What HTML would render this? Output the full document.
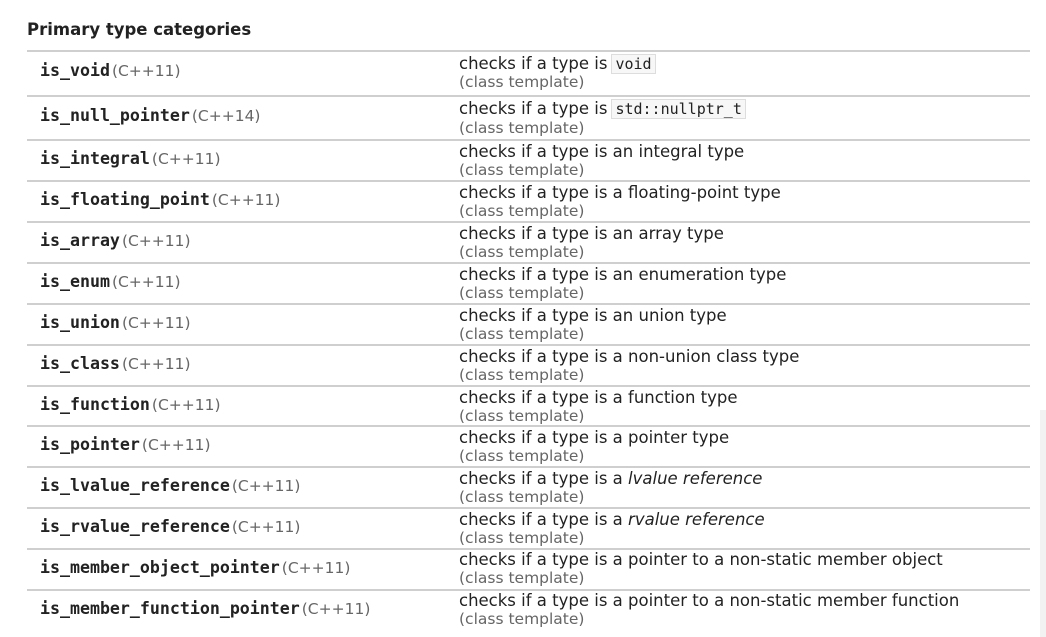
<!DOCTYPE html>
<html><head><meta charset="utf-8"><style>
body{margin:0;width:1046px;height:637px;background:#fff;overflow:hidden;position:relative;font-family:"DejaVu Sans","Liberation Sans",sans-serif;}
.title{position:absolute;left:27px;top:20px;font-weight:bold;font-size:16.5px;color:#222;}
.line{position:absolute;left:27px;width:1003px;height:2px;background:#cfcfcf;}
.code{position:absolute;left:40px;white-space:nowrap;color:#222;}
.code b{font-family:"DejaVu Sans Mono","Liberation Mono",monospace;font-size:16.6px;}
.code span{font-size:15.5px;color:#666;margin-left:2px;}
.d{position:absolute;left:459px;font-size:16.5px;color:#222;white-space:nowrap;}
.c{position:absolute;left:459px;font-size:15.5px;color:#666;white-space:nowrap;}
.box{font-family:"DejaVu Sans Mono","Liberation Mono",monospace;font-size:15px;background:#f7f7f7;border:1px solid #ddd;padding:0 3px;margin-left:4px;}
.sb{position:absolute;left:1040px;top:410px;width:6px;height:227px;background:#f2f2f2;}
</style></head><body>
<div class="title">Primary type categories</div>
<div class="sb"></div>

<div class="line" style="top:50px"></div>
<div class="code" style="top:61px"><b>is_void</b><span>(C++11)</span></div>
<div class="d" style="top:54px">checks if a type is<span class="box">void</span></div>
<div class="c" style="top:73px">(class template)</div>

<div class="line" style="top:95px"></div>
<div class="code" style="top:106px"><b>is_null_pointer</b><span>(C++14)</span></div>
<div class="d" style="top:99px">checks if a type is<span class="box">std::nullptr_t</span></div>
<div class="c" style="top:119px">(class template)</div>

<div class="line" style="top:139px"></div>
<div class="code" style="top:149px"><b>is_integral</b><span>(C++11)</span></div>
<div class="d" style="top:142px">checks if a type is an integral type</div>
<div class="c" style="top:161px">(class template)</div>

<div class="line" style="top:180px"></div>
<div class="code" style="top:190px"><b>is_floating_point</b><span>(C++11)</span></div>
<div class="d" style="top:183px">checks if a type is a floating-point type</div>
<div class="c" style="top:202px">(class template)</div>

<div class="line" style="top:221px"></div>
<div class="code" style="top:231px"><b>is_array</b><span>(C++11)</span></div>
<div class="d" style="top:224px">checks if a type is an array type</div>
<div class="c" style="top:243px">(class template)</div>

<div class="line" style="top:262px"></div>
<div class="code" style="top:272px"><b>is_enum</b><span>(C++11)</span></div>
<div class="d" style="top:265px">checks if a type is an enumeration type</div>
<div class="c" style="top:284px">(class template)</div>

<div class="line" style="top:303px"></div>
<div class="code" style="top:313px"><b>is_union</b><span>(C++11)</span></div>
<div class="d" style="top:306px">checks if a type is an union type</div>
<div class="c" style="top:325px">(class template)</div>

<div class="line" style="top:344px"></div>
<div class="code" style="top:354px"><b>is_class</b><span>(C++11)</span></div>
<div class="d" style="top:347px">checks if a type is a non-union class type</div>
<div class="c" style="top:366px">(class template)</div>

<div class="line" style="top:385px"></div>
<div class="code" style="top:395px"><b>is_function</b><span>(C++11)</span></div>
<div class="d" style="top:388px">checks if a type is a function type</div>
<div class="c" style="top:407px">(class template)</div>

<div class="line" style="top:425px"></div>
<div class="code" style="top:435px"><b>is_pointer</b><span>(C++11)</span></div>
<div class="d" style="top:428px">checks if a type is a pointer type</div>
<div class="c" style="top:447px">(class template)</div>

<div class="line" style="top:466px"></div>
<div class="code" style="top:476px"><b>is_lvalue_reference</b><span>(C++11)</span></div>
<div class="d" style="top:469px">checks if a type is a <i>lvalue reference</i></div>
<div class="c" style="top:488px">(class template)</div>

<div class="line" style="top:507px"></div>
<div class="code" style="top:517px"><b>is_rvalue_reference</b><span>(C++11)</span></div>
<div class="d" style="top:510px">checks if a type is a <i>rvalue reference</i></div>
<div class="c" style="top:529px">(class template)</div>

<div class="line" style="top:548px"></div>
<div class="code" style="top:558px"><b>is_member_object_pointer</b><span>(C++11)</span></div>
<div class="d" style="top:550px">checks if a type is a pointer to a non-static member object</div>
<div class="c" style="top:569px">(class template)</div>

<div class="line" style="top:589px"></div>
<div class="code" style="top:599px"><b>is_member_function_pointer</b><span>(C++11)</span></div>
<div class="d" style="top:591px">checks if a type is a pointer to a non-static member function</div>
<div class="c" style="top:610px">(class template)</div>
</body></html>
